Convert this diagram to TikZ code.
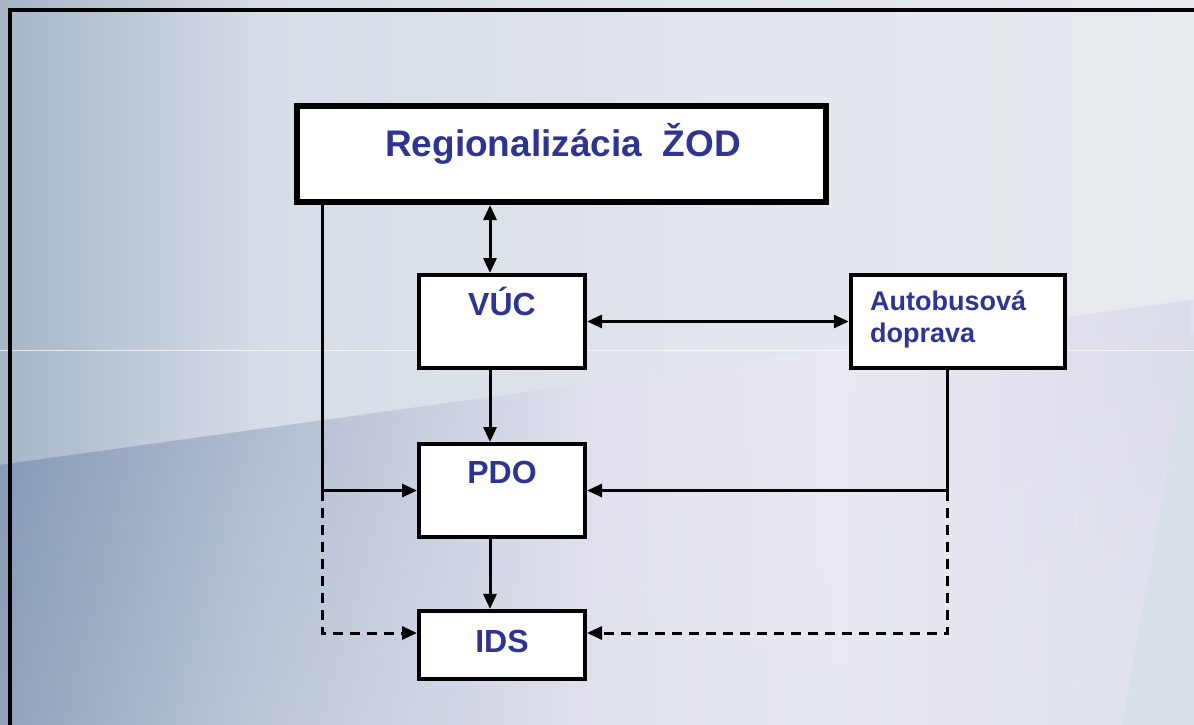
\documentclass[tikz,border=0pt]{standalone}
\usepackage{fontspec}
\setmainfont{Liberation Sans}
\usetikzlibrary{arrows.meta,fadings}
\definecolor{txt}{RGB}{46,52,145}
\definecolor{ta}{HTML}{A6B5C8}
\definecolor{tb}{HTML}{D6DDE6}
\definecolor{tc}{HTML}{E2E6ED}
\definecolor{td}{HTML}{E8ECF1}
\definecolor{la}{HTML}{8195B3}
\definecolor{lb}{HTML}{B3BDD2}
\definecolor{lc}{HTML}{E2E2EE}
\definecolor{ld}{HTML}{EBEAF4}
\definecolor{le}{HTML}{DADCE9}
\definecolor{strip}{HTML}{D8E0E7}
\pgfdeclarehorizontalshading{bgtop}{100bp}{color(0bp)=(ta); color(25bp)=(ta); color(36bp)=(tb); color(55bp)=(tc); color(75bp)=(td); color(100bp)=(td)}
\pgfdeclarehorizontalshading{bglow}{100bp}{color(0bp)=(la); color(25bp)=(la); color(37.5bp)=(lb); color(50bp)=(lc); color(60bp)=(ld); color(75bp)=(le); color(100bp)=(le)}
\begin{document}
\begin{tikzpicture}[x=1pt,y=-1pt,
  box/.style={draw=black, fill=white, line width=4pt, inner sep=0pt, rectangle},
  bigbox/.style={box, line width=6pt},
  lbl/.style={text=txt, font=\bfseries\fontsize{32}{36}\selectfont, inner sep=0pt, anchor=base},
  smalllbl/.style={text=txt, font=\bfseries\fontsize{27}{32}\selectfont, inner sep=0pt, anchor=base west},
  tip/.style={-{Triangle[length=15pt,width=13pt]}},
  conn/.style={line width=3pt, tip},
  dconn/.style={line width=3pt, {Triangle[length=15pt,width=13pt]}-{Triangle[length=15pt,width=13pt]}},
  dashconn/.style={line width=3pt, tip, dash pattern=on 10pt off 7pt}]
% background
\useasboundingbox (0,0) rectangle (1194,725);
\shade[shading=bgtop] (0,0) rectangle (1194,725);
\shade[shading=bglow, path fading=north, fading transform={yscale=-1}] (0,465) -- (1194,300) -- (1194,725) -- (0,725) -- cycle;
\shade[shading=bglow, opacity=0.55] (0,465) -- (1194,300) -- (1194,725) -- (0,725) -- cycle;
\fill[strip] (1199,300) -- (1194,300) -- (1194,725) -- (1122,725) -- cycle;
\draw[white, opacity=0.7, line width=1pt] (0,350) -- (1194,350);
% frame
\draw[line width=4pt, line cap=rect] (10.3,725) -- (10.3,10.3) -- (1194,10.3);
% boxes
\node[bigbox, minimum width=529pt, minimum height=96pt] (top) at (561.5,154) {};
\node[box, minimum width=166pt, minimum height=93pt] (vuc) at (502,321.5) {};
\node[box, minimum width=214.5pt, minimum height=93pt] (bus) at (958,321.5) {};
\node[box, minimum width=166pt, minimum height=93pt] (pdo) at (502,490.5) {};
\node[box, minimum width=166pt, minimum height=68.5pt] (ids) at (502,645.2) {};
% texts
\node[lbl, font=\bfseries\fontsize{37}{40}\selectfont] (topT) at (563,156) {Regionalizácia\ \ ŽOD};
\node[lbl] (vucT) at (502,315) {VÚC};
\node[lbl] (pdoT) at (502,483.5) {PDO};
\node[lbl] (idsT) at (502,652) {IDS};
\node[smalllbl] (busA) at (870,310) {Autobusová};
\node[smalllbl] (busB) at (870,342) {doprava};
% helper coordinates
\coordinate (cx) at (490,0);
\coordinate (lx) at (322,0);
\coordinate (rx) at (947,0);
\coordinate (dy) at (0,633);
% connectors
\draw[dconn] (top.south -| cx) -- (vuc.north -| cx);
\draw[dconn] (vuc.east) -- (bus.west);
\draw[conn] (vuc.south -| cx) -- (pdo.north -| cx);
\draw[conn] (pdo.south -| cx) -- (ids.north -| cx);
\draw[conn] (top.south -| lx) |- (pdo.west);
\draw[conn] (bus.south -| rx) |- (pdo.east);
\draw[dashconn] (lx |- pdo.west) |- (ids.west |- dy);
\draw[dashconn] (rx |- pdo.east) |- (ids.east |- dy);
\end{tikzpicture}
\end{document}
